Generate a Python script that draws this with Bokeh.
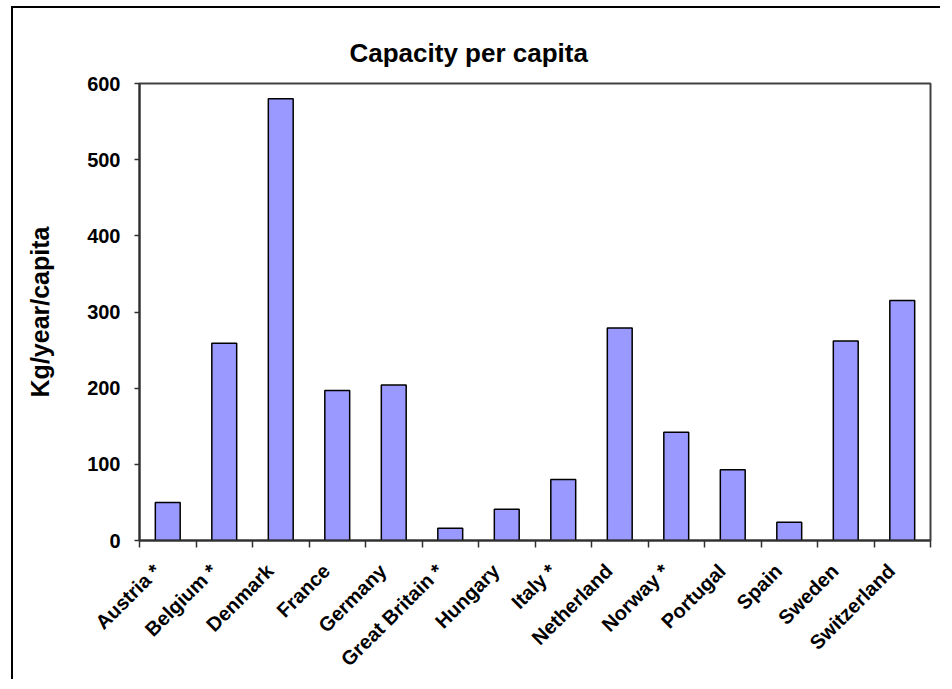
import math
from bokeh.plotting import figure
from bokeh.models import Range1d, FixedTicker, ColumnDataSource
from bokeh.embed import file_html
from bokeh.resources import INLINE

countries = ["Austria *", "Belgium *", "Denmark", "France", "Germany", "Great Britain *",
             "Hungary", "Italy *", "Netherland", "Norway *", "Portugal", "Spain",
             "Sweden", "Switzerland"]
capacity = [50, 259, 580, 197, 204, 16, 41, 80, 279, 142, 93, 24, 262, 315]
y_ticks = [0, 100, 200, 300, 400, 500, 600]
title_text = "Capacity per capita"
y_label = "Kg/year/capita"

FONT = "Liberation Sans"
n = len(countries)
xpos = [i + 0.5 for i in range(n)]
LABEL_SHIFT = -0.19  # rotated labels end slightly left of the bar centre
label_pos = [x + LABEL_SHIFT for x in xpos]
src = ColumnDataSource(dict(x=xpos, top=capacity, name=countries))

p = figure(width=929, height=673, x_range=Range1d(0, n), y_range=Range1d(0, 600),
           output_backend="svg", toolbar_location=None,
           min_border_left=126, min_border_right=12, min_border_top=75, min_border_bottom=141)
p.styles = {"border-left": "2px solid black", "border-top": "2px solid black",
            "margin-left": "11px", "margin-top": "6px"}

p.vbar(x="x", top="top", width=0.44, bottom=0, source=src,
       fill_color="#9999FF", line_color="black", line_width=1.5)

p.xgrid.visible = False
p.ygrid.visible = False
p.outline_line_color = "#404040"
p.outline_line_width = 2

# y axis
ya = p.yaxis[0]
ya.ticker = FixedTicker(ticks=y_ticks)
ya.major_tick_out = 5
ya.major_tick_in = 0
ya.minor_tick_line_color = None
ya.axis_line_color = "#303030"
ya.axis_line_width = 2
ya.major_tick_line_color = "#303030"
ya.major_tick_line_width = 1.5
ya.major_label_text_font = FONT
ya.major_label_text_font_style = "bold"
ya.major_label_text_font_size = "20px"
ya.major_label_text_color = "black"
ya.major_label_standoff = 14
ya.axis_label = y_label
ya.axis_label_text_font = FONT
ya.axis_label_text_font_style = "bold"
ya.axis_label_text_font_size = "25px"
ya.axis_label_text_color = "black"
ya.axis_label_standoff = 30

# x axis: ticks between categories, labels near centres
xa = p.xaxis[0]
xa.ticker = FixedTicker(ticks=label_pos, minor_ticks=list(range(n + 1)))
xa.major_label_overrides = {lp: c for lp, c in zip(label_pos, countries)}
xa.major_tick_line_color = None
xa.major_tick_out = 7
xa.major_tick_in = 0
xa.minor_tick_out = 7
xa.minor_tick_in = 0
xa.minor_tick_line_color = "#303030"
xa.minor_tick_line_width = 1.5
xa.axis_line_color = "#303030"
xa.axis_line_width = 2
xa.major_label_orientation = math.pi / 4
xa.major_label_text_font = FONT
xa.major_label_text_font_style = "bold"
xa.major_label_text_font_size = "20px"
xa.major_label_text_color = "black"
xa.major_label_standoff = 20

p.title.text = title_text
p.title.align = "left"
p.title.offset = 210
p.title.standoff = 32
p.title.text_font = FONT
p.title.text_font_style = "bold"
p.title.text_font_size = "26px"
p.title.text_color = "black"

open("out.html", "w").write(file_html(p, INLINE))
